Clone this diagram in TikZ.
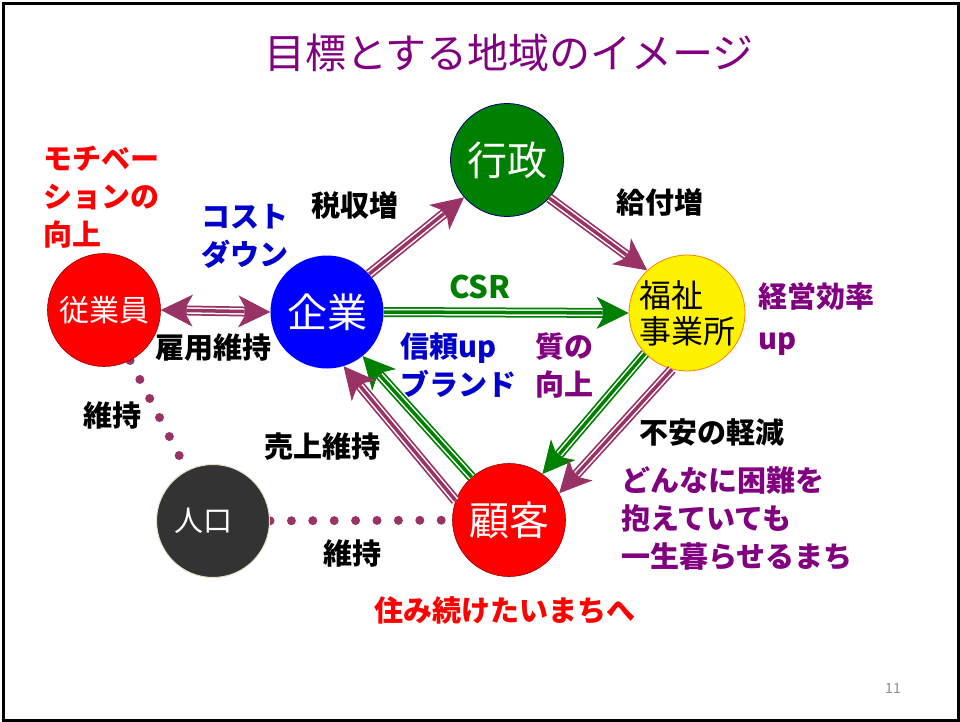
\documentclass[tikz,border=0pt]{standalone}
\usepackage{fontspec}
\setmainfont{Noto Sans CJK JP}
\usetikzlibrary{
    arrows.meta,
    backgrounds
}
\definecolor{mauve}{HTML}{993366}
\definecolor{leaf}{HTML}{008000}
\definecolor{plum}{HTML}{800080}
\definecolor{deepblue}{HTML}{0000CC}
\definecolor{coal}{HTML}{333333}
\definecolor{rim}{HTML}{E6E0C8}
\definecolor{navyline}{HTML}{000080}
\tikzset {
    ball/.style = {
        circle, minimum size = 113pt, inner sep = 0pt, text = white,
        font = \fontsize{40}{44}\selectfont
    },
    tri/.style = {
        draw = #1, line width = 10pt,
        -{Stealth[length = 32pt, width = 32pt, inset = 9pt, line width = 1pt]},
        postaction = {draw = white, line width = 6.5pt, -, shorten > = 26pt},
        postaction = {draw = #1, line width = 3.5pt, -, shorten > = 26pt}
    },
    tri both/.style = {
        draw = #1, line width = 10pt,
        {Stealth[length = 32pt, width = 32pt, inset = 9pt, line width = 1pt]}-{Stealth[length = 32pt, width = 32pt, inset = 9pt, line width = 1pt]},
        postaction = {draw = white, line width = 6.5pt, -, shorten > = 26pt, shorten < = 26pt},
        postaction = {draw = #1, line width = 3.5pt, -, shorten > = 26pt, shorten < = 26pt}
    },
    dots/.style = {
        draw = mauve, line width = 9pt, line cap = round,
        dash pattern = on 0pt off 21.4pt
    },
    lbl/.style = {
        inner sep = 0pt, align = left,
        font = \fontsize{29}{38}\selectfont\bfseries
    }
}

\begin{document}
\begin{tikzpicture}[x = 1pt, y = -1pt]
    \useasboundingbox (0, 0) rectangle (960, 722);
    \draw [line width = 3pt] (3.2, 3.3) rectangle (958.5, 720);

    % title
    \node (title) [text = plum, font = \fontsize{41}{45}\selectfont] at (509, 53) {目標とする地域のイメージ};

    % circles
    \node (gyosei) [ball, fill = leaf, draw = navyline, line width = 0.8pt] at (507, 160) {行政};
    \node (kigyo) [ball, fill = blue] at (327, 312) {企業};
    \node (jugyoin) [ball, fill = red, draw = red!60!black, line width = 0.6pt,
        font = \fontsize{30}{34}\selectfont] at (104, 310) {従業員};
    \node (fukushi) [ball, fill = yellow, draw = orange, line width = 0.8pt, text = black,
        align = left, font = \fontsize{32}{36}\selectfont] at (687, 313) {福祉\\事業所};
    \node (jinko) [ball, fill = coal, draw = rim, line width = 1pt,
        font = \fontsize{29}{33}\selectfont] at (213, 521) {人口\hspace*{20pt}};
    \node (kokyaku) [ball, fill = red, draw = red!60!black, line width = 0.6pt] at (509, 520) {顧客};

    \begin{scope}[on background layer]
        \draw [dots] (jugyoin) -- (jinko);
        \draw [dots] (jinko) -- (kokyaku);
    \end{scope}

    % arrows
    \draw [tri = mauve] (kigyo.42) -- (gyosei.221);
    \draw [tri = mauve] (gyosei.318) -- (fukushi.133);
    \draw [tri = leaf] (kigyo.0) -- (fukushi.180);
    \draw [tri both = mauve] (jugyoin.east) -- (kigyo.west);
    \draw [tri = leaf] (fukushi.224) -- (kokyaku.54);
    \draw [tri = mauve] (fukushi.255) -- (kokyaku.28);
    \draw [tri = leaf] (kokyaku.131) -- (kigyo.309);
    \draw [tri = mauve] (kokyaku.160) -- (kigyo.287);

    % labels
    \node (motive) [lbl, text = red, anchor = west] at (43, 197) {モチベー\\ションの\\向上};
    \node (cost) [lbl, text = deepblue, anchor = west] at (201, 236) {コスト\\ダウン};
    \node (tax) [lbl] at (355, 205) {税収増};
    \node (benefit) [lbl] at (660, 202) {給付増};
    \node (csr) [lbl, text = leaf, font = \fontsize{31}{38}\selectfont\bfseries] at (480, 287) {CSR};
    \node (effic) [lbl, text = plum, anchor = west,
        font = \fontsize{29}{42}\selectfont\bfseries] at (758, 319) {経営効率\\up};
    \node (employ) [lbl] at (213, 348) {雇用維持};
    \node (trust) [lbl, text = deepblue, anchor = west] at (400, 365) {信頼up\\ブランド};
    \node (quality) [lbl, text = plum, anchor = west] at (535, 365) {質の\\向上};
    \node (keepa) [lbl] at (112, 415) {維持};
    \node (sales) [lbl] at (322, 447) {売上維持};
    \node (relief) [lbl] at (712, 432) {不安の軽減};
    \node (hope) [lbl, text = plum, anchor = west] at (621, 518) {どんなに困難を\\抱えていても\\一生暮らせるまち};
    \node (keepb) [lbl] at (352, 553) {維持};
    \node (future) [lbl, text = red] at (505, 610) {住み続けたいまちへ};
    \node (page) [text = black!45, font = \fontsize{14}{16}\selectfont] at (893, 689) {11};
\end{tikzpicture}
\end{document}
